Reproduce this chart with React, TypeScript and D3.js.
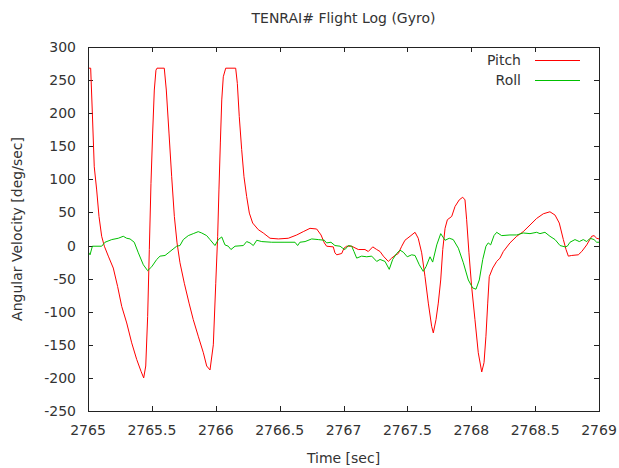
import React, { useEffect, useRef } from "react";
import * as d3 from "d3";

const pitchTime = [
  2765.0, 2765.021, 2765.034, 2765.049, 2765.068, 2765.086, 2765.107, 2765.128, 2765.159, 2765.198,
  2765.232, 2765.264, 2765.303, 2765.342, 2765.381, 2765.415, 2765.436, 2765.452, 2765.467, 2765.48,
  2765.493, 2765.506, 2765.519, 2765.532, 2765.54, 2765.597, 2765.613, 2765.634, 2765.655, 2765.676,
  2765.697, 2765.72, 2765.754, 2765.791, 2765.824, 2765.863, 2765.903, 2765.929, 2765.955, 2765.981,
  2766.0, 2766.015, 2766.025, 2766.036, 2766.047, 2766.059, 2766.078, 2766.156, 2766.169, 2766.184,
  2766.203, 2766.221, 2766.242, 2766.263, 2766.289, 2766.333, 2766.372, 2766.425, 2766.49, 2766.568,
  2766.634, 2766.685, 2766.738, 2766.79, 2766.824, 2766.85, 2766.868, 2766.92, 2766.933, 2766.947,
  2766.986, 2767.004, 2767.025, 2767.064, 2767.116, 2767.168, 2767.194, 2767.229, 2767.26, 2767.286,
  2767.312, 2767.351, 2767.377, 2767.403, 2767.429, 2767.456, 2767.481, 2767.521, 2767.56, 2767.585,
  2767.612, 2767.638, 2767.664, 2767.69, 2767.703, 2767.724, 2767.742, 2767.761, 2767.777, 2767.795,
  2767.813, 2767.847, 2767.873, 2767.906, 2767.933, 2767.951, 2767.964, 2767.982, 2768.003, 2768.029,
  2768.055, 2768.082, 2768.1, 2768.115, 2768.129, 2768.141, 2768.168, 2768.199, 2768.225, 2768.251,
  2768.303, 2768.356, 2768.407, 2768.46, 2768.512, 2768.564, 2768.616, 2768.656, 2768.689, 2768.721,
  2768.742, 2768.76, 2768.786, 2768.838, 2768.865, 2768.904, 2768.943, 2768.961, 2768.982, 2769.0,
];
const pitchValue = [
  268, 268, 200, 119, 84, 44, 14, -1, -16, -34,
  -62, -92, -117, -147, -172, -190, -200, -182, -107, -6,
  94, 170, 235, 265, 268, 268, 235, 170, 104, 44,
  4, -26, -57, -87, -112, -137, -162, -182, -188, -150,
  -57, 14, 84, 155, 220, 255, 268, 268, 245, 195,
  145, 104, 74, 49, 34, 24, 19, 11, 10, 11,
  16, 21, 26, 25, 16, 4, -1, -2, -11, -14,
  -12, -4, -1, -1, -6, -6, -9, -2, -6, -9,
  -16, -24, -19, -15, -12, -1, 8, 14, 20, 11,
  -11, -47, -87, -122, -132, -112, -87, -52, -6, 26,
  39, 44, 59, 69, 73, 69, 39, -11, -62, -112,
  -162, -191, -177, -137, -87, -47, -34, -24, -19, -9,
  4, 14, 21, 31, 41, 48, 51, 46, 34, 9,
  -6, -16, -15, -14, -9, 1, 14, 15, 11, 10,
];

const rollTime = [
  2765.0, 2765.016, 2765.034, 2765.107, 2765.133, 2765.186, 2765.237, 2765.276, 2765.303, 2765.329,
  2765.362, 2765.394, 2765.433, 2765.467, 2765.499, 2765.538, 2765.564, 2765.603, 2765.642, 2765.694,
  2765.72, 2765.746, 2765.785, 2765.824, 2765.863, 2765.89, 2765.929, 2765.955, 2765.994, 2766.02,
  2766.047, 2766.072, 2766.098, 2766.119, 2766.151, 2766.216, 2766.242, 2766.268, 2766.294, 2766.321,
  2766.36, 2766.438, 2766.542, 2766.62, 2766.641, 2766.659, 2766.699, 2766.751, 2766.803, 2766.85,
  2766.868, 2766.902, 2766.933, 2766.973, 2766.994, 2767.012, 2767.038, 2767.064, 2767.082, 2767.103,
  2767.142, 2767.182, 2767.221, 2767.26, 2767.286, 2767.325, 2767.358, 2767.385, 2767.416, 2767.442,
  2767.468, 2767.499, 2767.534, 2767.56, 2767.593, 2767.624, 2767.646, 2767.677, 2767.698, 2767.73,
  2767.761, 2767.795, 2767.828, 2767.859, 2767.899, 2767.938, 2767.977, 2768.011, 2768.037, 2768.063,
  2768.09, 2768.115, 2768.133, 2768.152, 2768.178, 2768.199, 2768.238, 2768.303, 2768.356, 2768.407,
  2768.46, 2768.512, 2768.538, 2768.577, 2768.616, 2768.656, 2768.695, 2768.734, 2768.752, 2768.773,
  2768.812, 2768.846, 2768.877, 2768.904, 2768.93, 2768.961, 2768.982, 2769.0,
];
const rollValue = [
  -9, -14, -1, -1, 5, 9, 11, 14, 11, 10,
  5, -11, -29, -38, -32, -21, -16, -15, -9, -1,
  0, 9, 15, 18, 21, 19, 15, 9, 0, 9,
  13, 1, -1, -6, -1, 0, 6, 4, 0, 8,
  6, 5, 5, 5, 0, 5, 6, 10, 9, 8,
  4, 5, 0, -1, -4, -6, 0, -1, -9, -19,
  -16, -17, -16, -24, -21, -24, -36, -21, -12, -7,
  -10, -17, -14, -15, -29, -39, -32, -17, -25, 1,
  18, 8, 11, 9, -4, -26, -52, -64, -66, -52,
  -21, -1, 4, 1, 15, 20, 15, 16, 16, 19,
  18, 20, 18, 20, 14, 9, 0, -2, -1, 5,
  9, 6, 9, 6, 11, 9, 5, 5,
];

const xTicks = [2765, 2765.5, 2766, 2766.5, 2767, 2767.5, 2768, 2768.5, 2769];
const yTicks = [-250, -200, -150, -100, -50, 0, 50, 100, 150, 200, 250, 300];

const seriesNames = ["Pitch", "Roll"];
const seriesColors = ["#ff0000", "#00c000"];

const W = 619;
const H = 468;
const FONT = "'DejaVu Sans', sans-serif";
const FS = 14;

export default function App() {
  const ref = useRef<SVGSVGElement | null>(null);

  useEffect(() => {
    const svg = d3.select(ref.current);
    svg.selectAll("*").remove();

    const x0 = 88, x1 = 599, y0 = 411, y1 = 47;
    const x = d3.scaleLinear().domain([2765, 2769]).range([x0, x1]);
    const y = d3.scaleLinear().domain([-250, 300]).range([y0, y1]);

    svg.append("rect").attr("width", W).attr("height", H).attr("fill", "#fff");

    svg.append("defs").append("clipPath").attr("id", "clip")
      .append("rect").attr("x", x0).attr("y", y1).attr("width", x1 - x0).attr("height", y0 - y1);

    const tickLen = 5;
    const axisColor = "#222";
    const textColor = "#333";

    const tg = svg.append("g").attr("stroke", axisColor).attr("stroke-width", 1);
    yTicks.forEach((v) => {
      const py = Math.round(y(v)) + 0.5;
      tg.append("line").attr("x1", x0).attr("x2", x0 + tickLen).attr("y1", py).attr("y2", py);
      tg.append("line").attr("x1", x1).attr("x2", x1 - tickLen).attr("y1", py).attr("y2", py);
    });
    xTicks.forEach((v) => {
      const px = Math.round(x(v)) + 0.5;
      tg.append("line").attr("x1", px).attr("x2", px).attr("y1", y0).attr("y2", y0 - tickLen);
      tg.append("line").attr("x1", px).attr("x2", px).attr("y1", y1).attr("y2", y1 + tickLen);
    });

    yTicks.forEach((v) => {
      svg.append("text").attr("x", x0 - 12).attr("y", y(v)).attr("dy", "0.36em")
        .attr("text-anchor", "end").attr("font-family", FONT).attr("font-size", FS)
        .attr("fill", textColor).text(String(v));
    });
    xTicks.forEach((v) => {
      svg.append("text").attr("x", x(v)).attr("y", y0 + 24)
        .attr("text-anchor", "middle").attr("font-family", FONT).attr("font-size", FS)
        .attr("fill", textColor).text(String(v));
    });

    const line = d3.line<[number, number]>().x((d) => x(d[0])).y((d) => y(d[1]));
    const pitchData: [number, number][] = pitchTime.map((t, i) => [t, pitchValue[i]]);
    const rollData: [number, number][] = rollTime.map((t, i) => [t, rollValue[i]]);
    const lg = svg.append("g").attr("clip-path", "url(#clip)");
    lg.append("path").attr("d", line(pitchData)).attr("fill", "none")
      .attr("stroke", seriesColors[0]).attr("stroke-width", 1);
    lg.append("path").attr("d", line(rollData)).attr("fill", "none")
      .attr("stroke", seriesColors[1]).attr("stroke-width", 1);

    svg.append("rect").attr("x", x0 + 0.5).attr("y", y1 + 0.5)
      .attr("width", x1 - x0).attr("height", y0 - y1)
      .attr("fill", "none").attr("stroke", axisColor).attr("stroke-width", 1);

    seriesNames.forEach((name, i) => {
      const ly = 60 + i * 20;
      svg.append("text").attr("x", 521).attr("y", ly).attr("dy", "0.36em")
        .attr("text-anchor", "end").attr("font-family", FONT).attr("font-size", FS)
        .attr("fill", textColor).text(name);
      svg.append("line").attr("x1", 535).attr("x2", 580).attr("y1", ly + 0.5).attr("y2", ly + 0.5)
        .attr("stroke", seriesColors[i]).attr("stroke-width", 1);
    });

    svg.append("text").attr("x", (x0 + x1) / 2).attr("y", 23).attr("text-anchor", "middle")
      .attr("font-family", FONT).attr("font-size", FS).attr("fill", textColor)
      .text("TENRAI# Flight Log (Gyro)");
    svg.append("text").attr("x", (x0 + x1) / 2).attr("y", 463).attr("text-anchor", "middle")
      .attr("font-family", FONT).attr("font-size", FS).attr("fill", textColor)
      .text("Time [sec]");
    svg.append("text")
      .attr("transform", `translate(22, ${(y0 + y1) / 2}) rotate(-90)`)
      .attr("text-anchor", "middle").attr("font-family", FONT).attr("font-size", FS)
      .attr("fill", textColor).text("Angular Velocity [deg/sec]");
  }, []);

  return (
    <svg ref={ref} width={W} height={H}
      style={{ position: "absolute", left: 0, top: 0, display: "block" }} />
  );
}
